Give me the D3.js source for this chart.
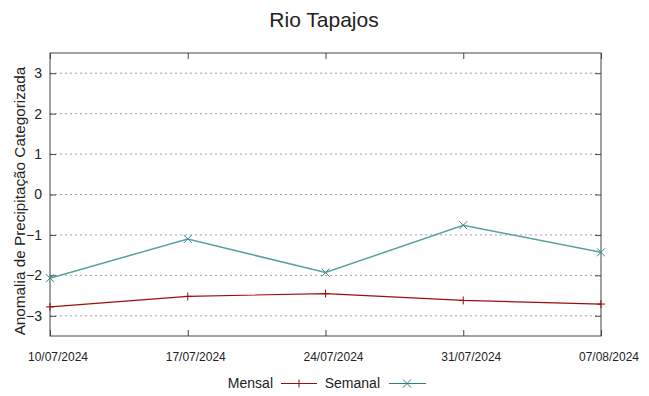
<!DOCTYPE html>
<html><head><meta charset="utf-8">
<script src="https://cdn.jsdelivr.net/npm/d3@7"></script>
<style>body{margin:0;background:#fff}svg{display:block}text{font-family:"Liberation Sans",Arial,sans-serif}</style>
</head><body><svg id="c" width="649" height="396"></svg>
<script>
const dates = ["10/07/2024","17/07/2024","24/07/2024","31/07/2024","07/08/2024"];
const mensal = [-2.78, -2.52, -2.45, -2.62, -2.71];
const semanal = [-2.07, -1.10, -1.93, -0.76, -1.43];
const yTicks = [-3,-2,-1,0,1,2,3];

const svg = d3.select("#c");
const L=50, R=601, T=53, B=336;
const x = d3.scalePoint().domain(dates).range([L,R]);
const y = d3.scaleLinear().domain([-3.5,3.5]).range([B,T]);

// grid
svg.append("g").selectAll("line").data(yTicks).join("line")
  .attr("x1",L).attr("x2",R).attr("y1",d=>y(d)).attr("y2",d=>y(d))
  .attr("stroke","#a0a0a0").attr("stroke-dasharray","2,3").attr("stroke-width",1);

// axes
const yl = d3.axisLeft(y).tickValues(yTicks).tickFormat(d3.format("d")).tickSizeInner(-6).tickSizeOuter(0).tickPadding(8);
const gyl = svg.append("g").attr("transform",`translate(${L},0)`).call(yl);
gyl.selectAll("text").style("font-size","14px");
const yr = d3.axisRight(y).tickValues(yTicks).tickFormat("").tickSizeInner(-6).tickSizeOuter(0);
const gyr = svg.append("g").attr("transform",`translate(${R},0)`).call(yr);
const xb = d3.axisBottom(x).tickSizeInner(-6).tickSizeOuter(0).tickPadding(16);
const gxb = svg.append("g").attr("transform",`translate(0,${B})`).call(xb);
gxb.selectAll("text").style("font-size","12px").attr("dx",7.5);
const xt = d3.axisTop(x).tickFormat("").tickSizeInner(-6).tickSizeOuter(0);
const gxt = svg.append("g").attr("transform",`translate(0,${T})`).call(xt);
[gyl,gyr,gxb,gxt].forEach(g=>{
  g.select(".domain").remove();
  g.selectAll("line").attr("stroke","#444");
  g.selectAll("text").attr("fill","#222").style("font-family","'Liberation Sans',Arial,sans-serif");
});

svg.append("rect").attr("x",L).attr("y",T).attr("width",R-L).attr("height",B-T)
  .attr("fill","none").attr("stroke","#444").attr("stroke-width",1);

const line = d3.line().x((d,i)=>x(dates[i])).y(d=>y(d));
const cM="#9b0d0d", cS="#5aa0a0";
svg.append("path").datum(mensal).attr("d",line).attr("fill","none").attr("stroke",cM).attr("stroke-width",1.2);
svg.append("path").datum(semanal).attr("d",line).attr("fill","none").attr("stroke",cS).attr("stroke-width",1.5);

function plus(g,cx,cy,c){g.append("path").attr("d",`M${cx-4},${cy}H${cx+4}M${cx},${cy-4}V${cy+4}`).attr("stroke",c).attr("stroke-width",1);}
function cross(g,cx,cy,c){g.append("path").attr("d",`M${cx-4},${cy-4}L${cx+4},${cy+4}M${cx-4},${cy+4}L${cx+4},${cy-4}`).attr("stroke",c).attr("stroke-width",1);}
const mg = svg.append("g");
mensal.forEach((v,i)=>plus(mg,x(dates[i]),y(v),cM));
semanal.forEach((v,i)=>cross(mg,x(dates[i]),y(v),"#3a8a8a"));

svg.append("text").attr("x",324).attr("y",27).attr("text-anchor","middle").style("font-size","21px").attr("fill","#222").text("Rio Tapajos");
svg.append("text").attr("transform",`translate(25,201) rotate(-90)`).attr("text-anchor","middle").style("font-size","15.3px").attr("fill","#222").text("Anomalia de Precipitação Categorizada");

// legend
const ly=383.5;
svg.append("text").attr("x",273).attr("y",388).attr("text-anchor","end").style("font-size","14px").attr("fill","#222").text("Mensal");
svg.append("line").attr("x1",281).attr("x2",317).attr("y1",ly).attr("y2",ly).attr("stroke",cM).attr("stroke-width",1.2);
plus(svg,299,ly,cM);
svg.append("text").attr("x",380).attr("y",388).attr("text-anchor","end").style("font-size","14px").attr("fill","#222").text("Semanal");
svg.append("line").attr("x1",389).attr("x2",426).attr("y1",ly).attr("y2",ly).attr("stroke","#2f8080").attr("stroke-width",1.2);
cross(svg,407,ly,"#2f8080");
</script></body></html>
